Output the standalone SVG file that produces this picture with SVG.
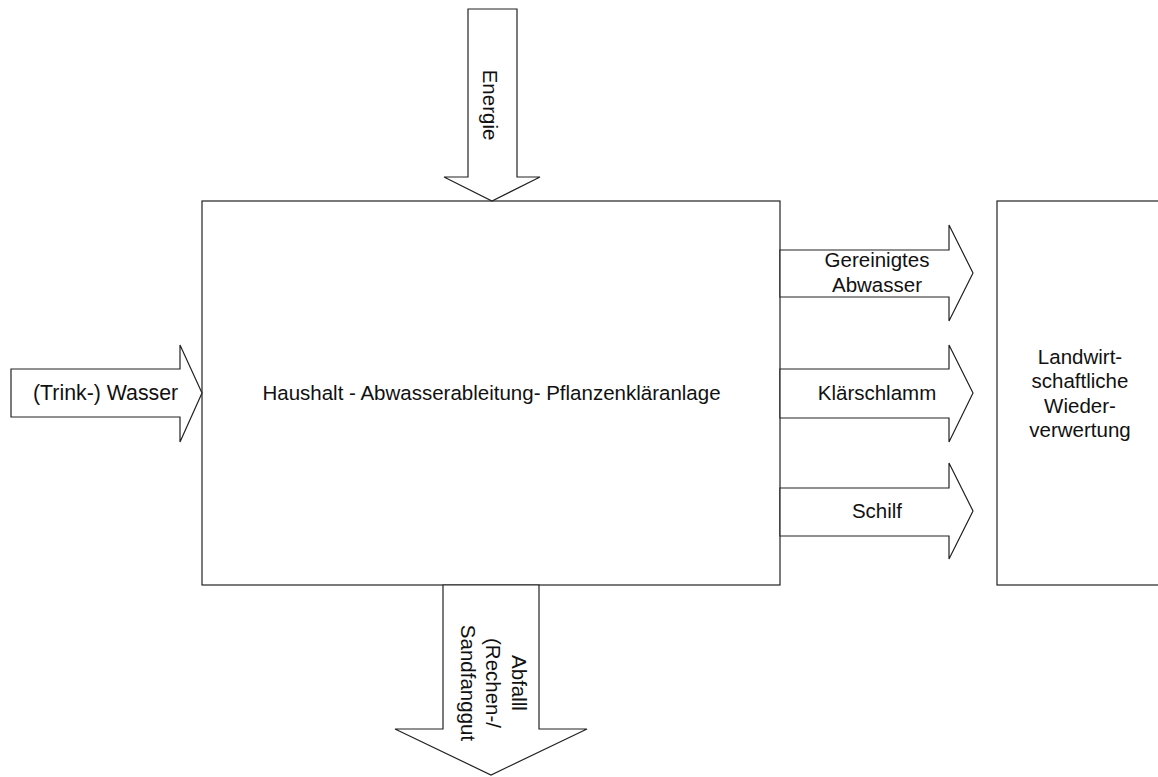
<svg xmlns="http://www.w3.org/2000/svg" width="1158" height="777" viewBox="0 0 1158 777">
<style>
.box{fill:#fff;stroke:#222;stroke-width:1.2}
.arr{fill:#fff;stroke:#222;stroke-width:1.2;stroke-linejoin:miter}
.t{font-family:"Liberation Sans",Arial,sans-serif;font-size:20.5px;fill:#111}
.m{text-anchor:middle}
</style>
<rect x="0" y="0" width="1158" height="777" fill="#fff"/>
<g id="node-main">
<rect class="box" x="202" y="201" width="578" height="384"/>
<text class="t m" x="491.5" y="400">Haushalt - Abwasserableitung- Pflanzenkläranlage</text>
</g>
<g id="node-landwirtschaft">
<rect class="box" x="997" y="201" width="180" height="384"/>
<text class="t m" x="1080" y="363.5"><tspan x="1080">Landwirt-</tspan><tspan x="1080" dy="24.5">schaftliche</tspan><tspan x="1080" dy="24.5">Wieder-</tspan><tspan x="1080" dy="24.5">verwertung</tspan></text>
</g>
<g id="connectors">
<g id="arrow-energie">
<polygon class="arr" points="468,9 517,9 517,177 540,177 492,201 444,177 468,177"/>
<text class="t m" transform="translate(490,105) rotate(90)" x="0" y="7.5">Energie</text>
</g>
<g id="arrow-wasser">
<polygon class="arr" points="11,369 180,369 180,345 202,393 180,442 180,417 11,417"/>
<text class="t" x="33" y="400" style="font-size:21.3px">(Trink-) Wasser</text>
</g>
<g id="arrow-abwasser">
<polygon class="arr" points="780,250 949,250 949,225 973,273 949,321 949,297 780,297"/>
<text class="t m" x="877" y="267"><tspan x="877">Gereinigtes</tspan><tspan x="877" dy="24.5">Abwasser</tspan></text>
</g>
<g id="arrow-klaerschlamm">
<polygon class="arr" points="780,369 949,369 949,345 973,393 949,442 949,418 780,418"/>
<text class="t m" x="877" y="400">Klärschlamm</text>
</g>
<g id="arrow-schilf">
<polygon class="arr" points="780,488 949,488 949,463 973,511 949,559 949,536 780,536"/>
<text class="t m" x="877" y="518">Schilf</text>
</g>
<g id="arrow-abfall">
<polygon class="arr" points="443,585 539,585 539,729 587,729 491,775 395,729 443,729"/>
<text class="t m" transform="translate(491,683) rotate(90)"><tspan x="0" y="-20.7">Abfalll</tspan><tspan x="0" y="5">(Rechen-/</tspan><tspan x="0" y="30.3">Sandfanggut</tspan></text>
</g>
</g>
</svg>
